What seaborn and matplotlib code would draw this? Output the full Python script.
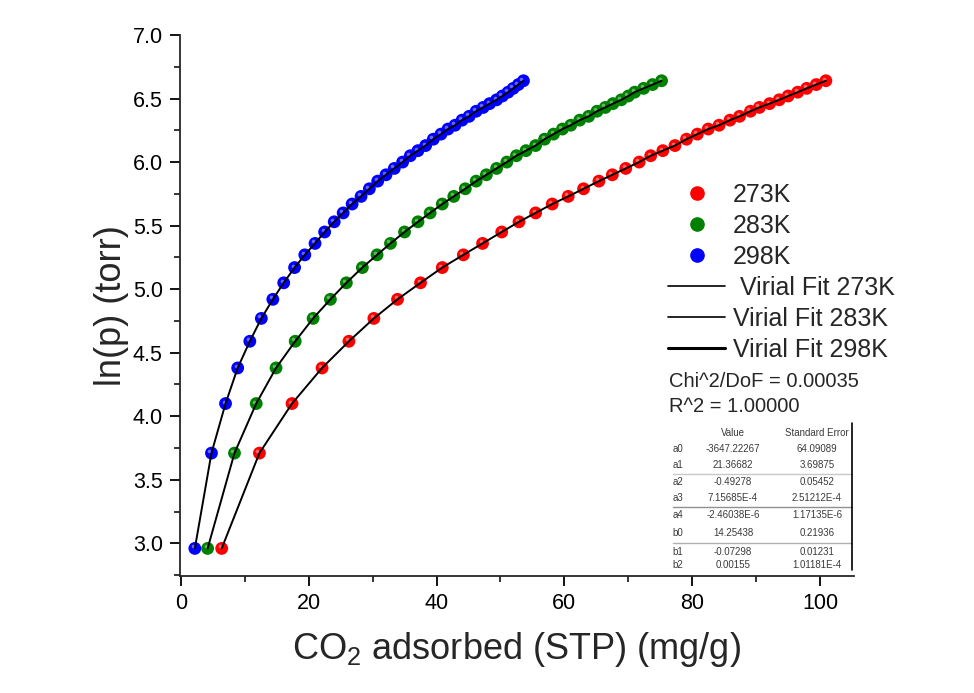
import numpy as np
import pandas as pd
import matplotlib
matplotlib.use("Agg")
import matplotlib.pyplot as plt
from matplotlib.lines import Line2D
from matplotlib.ticker import MultipleLocator, FormatStrFormatter
import matplotlib.transforms as mtransforms
import seaborn as sns

# ln(p) levels of the isotherm points (shared by all three temperatures)
ln_p = [2.96, 3.71, 4.10, 4.38, 4.59, 4.77, 4.92, 5.05, 5.17, 5.27,
        5.36, 5.45, 5.53, 5.60, 5.67, 5.73, 5.79, 5.85, 5.90, 5.95,
        6.00, 6.05, 6.09, 6.13, 6.18, 6.22, 6.26, 6.29, 6.33, 6.36,
        6.40, 6.43, 6.46, 6.49, 6.52, 6.55, 6.58, 6.61, 6.64]

# CO2 uptake (mg/g) at each level
uptake_273 = [6.4, 12.3, 17.4, 22.1, 26.3, 30.2, 33.9, 37.5, 40.9, 44.2,
              47.2, 50.2, 52.9, 55.5, 58.1, 60.6, 63.0, 65.4, 67.5, 69.6,
              71.7, 73.5, 75.4, 77.3, 79.1, 80.8, 82.5, 84.2, 85.9, 87.4,
              89.1, 90.5, 92.1, 93.6, 95.0, 96.5, 97.9, 99.4, 100.9]
uptake_283 = [4.2, 8.4, 11.8, 14.9, 17.9, 20.7, 23.4, 25.9, 28.4, 30.7,
              32.8, 35.0, 37.1, 39.0, 40.9, 42.7, 44.5, 46.2, 47.8, 49.4,
              51.0, 52.5, 54.0, 55.5, 56.9, 58.3, 59.7, 61.0, 62.4, 63.8,
              65.1, 66.4, 67.6, 68.9, 70.0, 71.0, 72.4, 73.8, 75.2]
uptake_298 = [2.2, 4.8, 7.0, 8.9, 10.8, 12.6, 14.4, 16.1, 17.8, 19.4,
              21.0, 22.5, 24.0, 25.4, 26.8, 28.2, 29.5, 30.8, 32.1, 33.4,
              34.7, 35.9, 37.1, 38.3, 39.5, 40.7, 41.8, 42.9, 44.0, 45.1,
              46.2, 47.3, 48.3, 49.4, 50.3, 51.2, 52.0, 52.8, 53.6]

temps = ["273K", "283K", "298K"]
colors = {"273K": "#FF0000", "283K": "#008000", "298K": "#0000FF"}
fit_widths = {"273K": 1.2, "283K": 1.2, "298K": 2.2}

# Virial fit summary
fit_stats = ["Chi^2/DoF = 0.00035", "R^2 = 1.00000"]
param_names = ["a0", "a1", "a2", "a3", "a4", "b0", "b1", "b2"]
param_values = ["-3647.22267", "21.36682", "-0.49278", "7.15685E-4",
                "-2.46038E-6", "14.25438", "-0.07298", "0.00155"]
param_errors = ["64.09089", "3.69875", "0.05452", "2.51212E-4",
                "1.17135E-6", "0.21936", "0.01231", "1.01181E-4"]

df = pd.concat([
    pd.DataFrame({"uptake": u, "lnp": ln_p, "T": t})
    for t, u in zip(temps, [uptake_273, uptake_283, uptake_298])
], ignore_index=True)

sns.set_theme(style="ticks")
plt.rcParams["font.family"] = ["Liberation Sans", "DejaVu Sans"]
plt.rcParams["axes.linewidth"] = 1.3

W, H = 974, 693
fig = plt.figure(figsize=(W / 100, H / 100), dpi=100)
fig.patch.set_facecolor("white")
ax = fig.add_axes([179.5 / W, 1 - 576 / H, (854 - 179.5) / W, (576 - 35) / H])
ax.set_facecolor("white")

# isotherm points (shaded spheres: base disc + soft highlight)
sns.scatterplot(data=df, x="uptake", y="lnp", hue="T", palette=colors,
                s=85, edgecolor="none", linewidth=0, legend=False, ax=ax, zorder=3)
hl = mtransforms.offset_copy(ax.transData, fig=fig, x=-2, y=2, units="dots")
for t in temps:
    sub = df[df["T"] == t]
    ax.scatter(sub["uptake"], sub["lnp"], s=7, color="white", alpha=0.4,
               linewidths=0, transform=hl, zorder=4)

# virial fit curves
for t in temps:
    sub = df[df["T"] == t]
    sns.lineplot(x=sub["uptake"].values, y=sub["lnp"].values, sort=False,
                 estimator=None, color="black", lw=1.4, ax=ax, zorder=5)

ax.set_xlim(-0.2, 105.3)
ax.set_ylim(2.743, 7.0)
ax.xaxis.set_major_locator(MultipleLocator(20))
ax.xaxis.set_minor_locator(MultipleLocator(10))
ax.yaxis.set_major_locator(MultipleLocator(0.5))
ax.yaxis.set_minor_locator(MultipleLocator(0.25))
ax.yaxis.set_major_formatter(FormatStrFormatter("%.1f"))
ax.tick_params(which="major", direction="out", length=7, width=1.3,
               labelsize=15.5, colors="black", pad=5)
ax.tick_params(which="minor", direction="out", length=4, width=1.1, colors="black")
sns.despine(ax=ax)
ax.set_xlabel(r"CO$_\mathregular{2}$ adsorbed (STP) (mg/g)", fontsize=26, labelpad=12)
ax.set_ylabel("ln(p) (torr)", fontsize=26, labelpad=3)

# legend
handles = [Line2D([], [], ls="none", marker="o", ms=9.5, mfc=colors[t], mec=colors[t])
           for t in temps]
labels = list(temps)
for i, t in enumerate(temps):
    handles.append(Line2D([], [], color="black", lw=fit_widths[t]))
    labels.append((" " if i == 0 else "") + "Virial Fit " + t)
fig.legend(handles, labels, loc="upper left",
           bbox_to_anchor=(668 / W, 1 - 183 / H), frameon=False, fontsize=18,
           handlelength=2.28, handletextpad=0.33, labelspacing=0.28,
           borderpad=0, borderaxespad=0, numpoints=1)

def fx(px):
    return px / W

def fy(py):
    return 1 - py / H

fig.text(fx(669), fy(382), fit_stats[0], fontsize=14.5, va="center", ha="left")
fig.text(fx(669), fy(406), fit_stats[1], fontsize=14.5, va="center", ha="left")

# parameter table
row_y = [449, 465, 482, 498, 515, 533, 552, 565]
tcol = "#3a3a3a"
fig.text(fx(733), fy(433), "Value", fontsize=7, ha="center", va="center", color=tcol)
fig.text(fx(817), fy(433), "Standard Error", fontsize=7, ha="center", va="center", color=tcol)
for name, val, err, yy in zip(param_names, param_values, param_errors, row_y):
    fig.text(fx(678), fy(yy), name, fontsize=7, ha="center", va="center", color=tcol)
    fig.text(fx(733), fy(yy), val, fontsize=7, ha="center", va="center", color=tcol)
    fig.text(fx(817), fy(yy), err, fontsize=7, ha="center", va="center", color=tcol)
for yy, c in [(474, "#c8c8c8"), (507, "#909090"), (543, "#b0b0b0")]:
    fig.add_artist(Line2D([fx(673), fx(852)], [fy(yy), fy(yy)], color=c, lw=1.0))
fig.add_artist(Line2D([fx(852), fx(852)], [fy(423), fy(570)], color="black", lw=1.2))

fig.savefig("out.png", dpi=100, facecolor="white")
